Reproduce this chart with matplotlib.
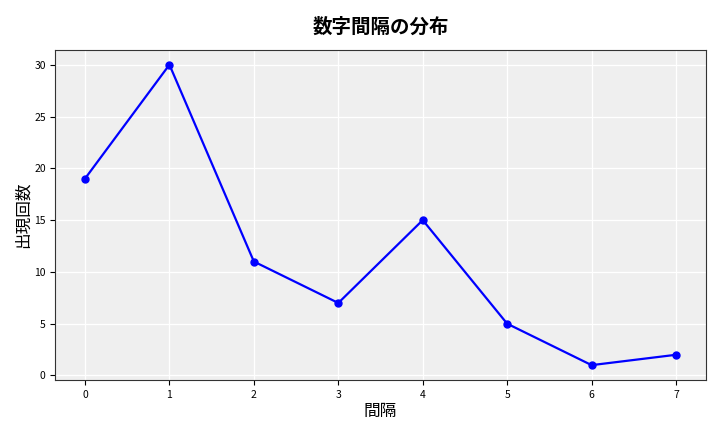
import matplotlib
matplotlib.use("Agg")
import matplotlib.pyplot as plt

plt.rcParams['font.family'] = ['Noto Sans CJK JP', 'DejaVu Sans']

intervals = [0, 1, 2, 3, 4, 5, 6, 7]
counts = [19, 30, 11, 7, 15, 5, 1, 2]

fig, ax = plt.subplots(figsize=(7.2, 4.32), dpi=100)
ax.set_facecolor('#efefef')
ax.plot(intervals, counts, color='blue', marker='o', linewidth=1.6, markersize=5)
ax.grid(True, color='white', linewidth=0.9)
ax.set_axisbelow(True)
ax.set_title('数字間隔の分布', fontsize=14, fontweight='bold', pad=12)
ax.set_xlabel('間隔', fontsize=12, labelpad=2)
ax.set_ylabel('出現回数', fontsize=12, labelpad=2)
ax.tick_params(labelsize=7.5)
for s in ax.spines.values():
    s.set_color('#333333')
    s.set_linewidth(0.8)
fig.subplots_adjust(left=0.077, right=0.98, top=0.885, bottom=0.12)
fig.savefig('out.png')
